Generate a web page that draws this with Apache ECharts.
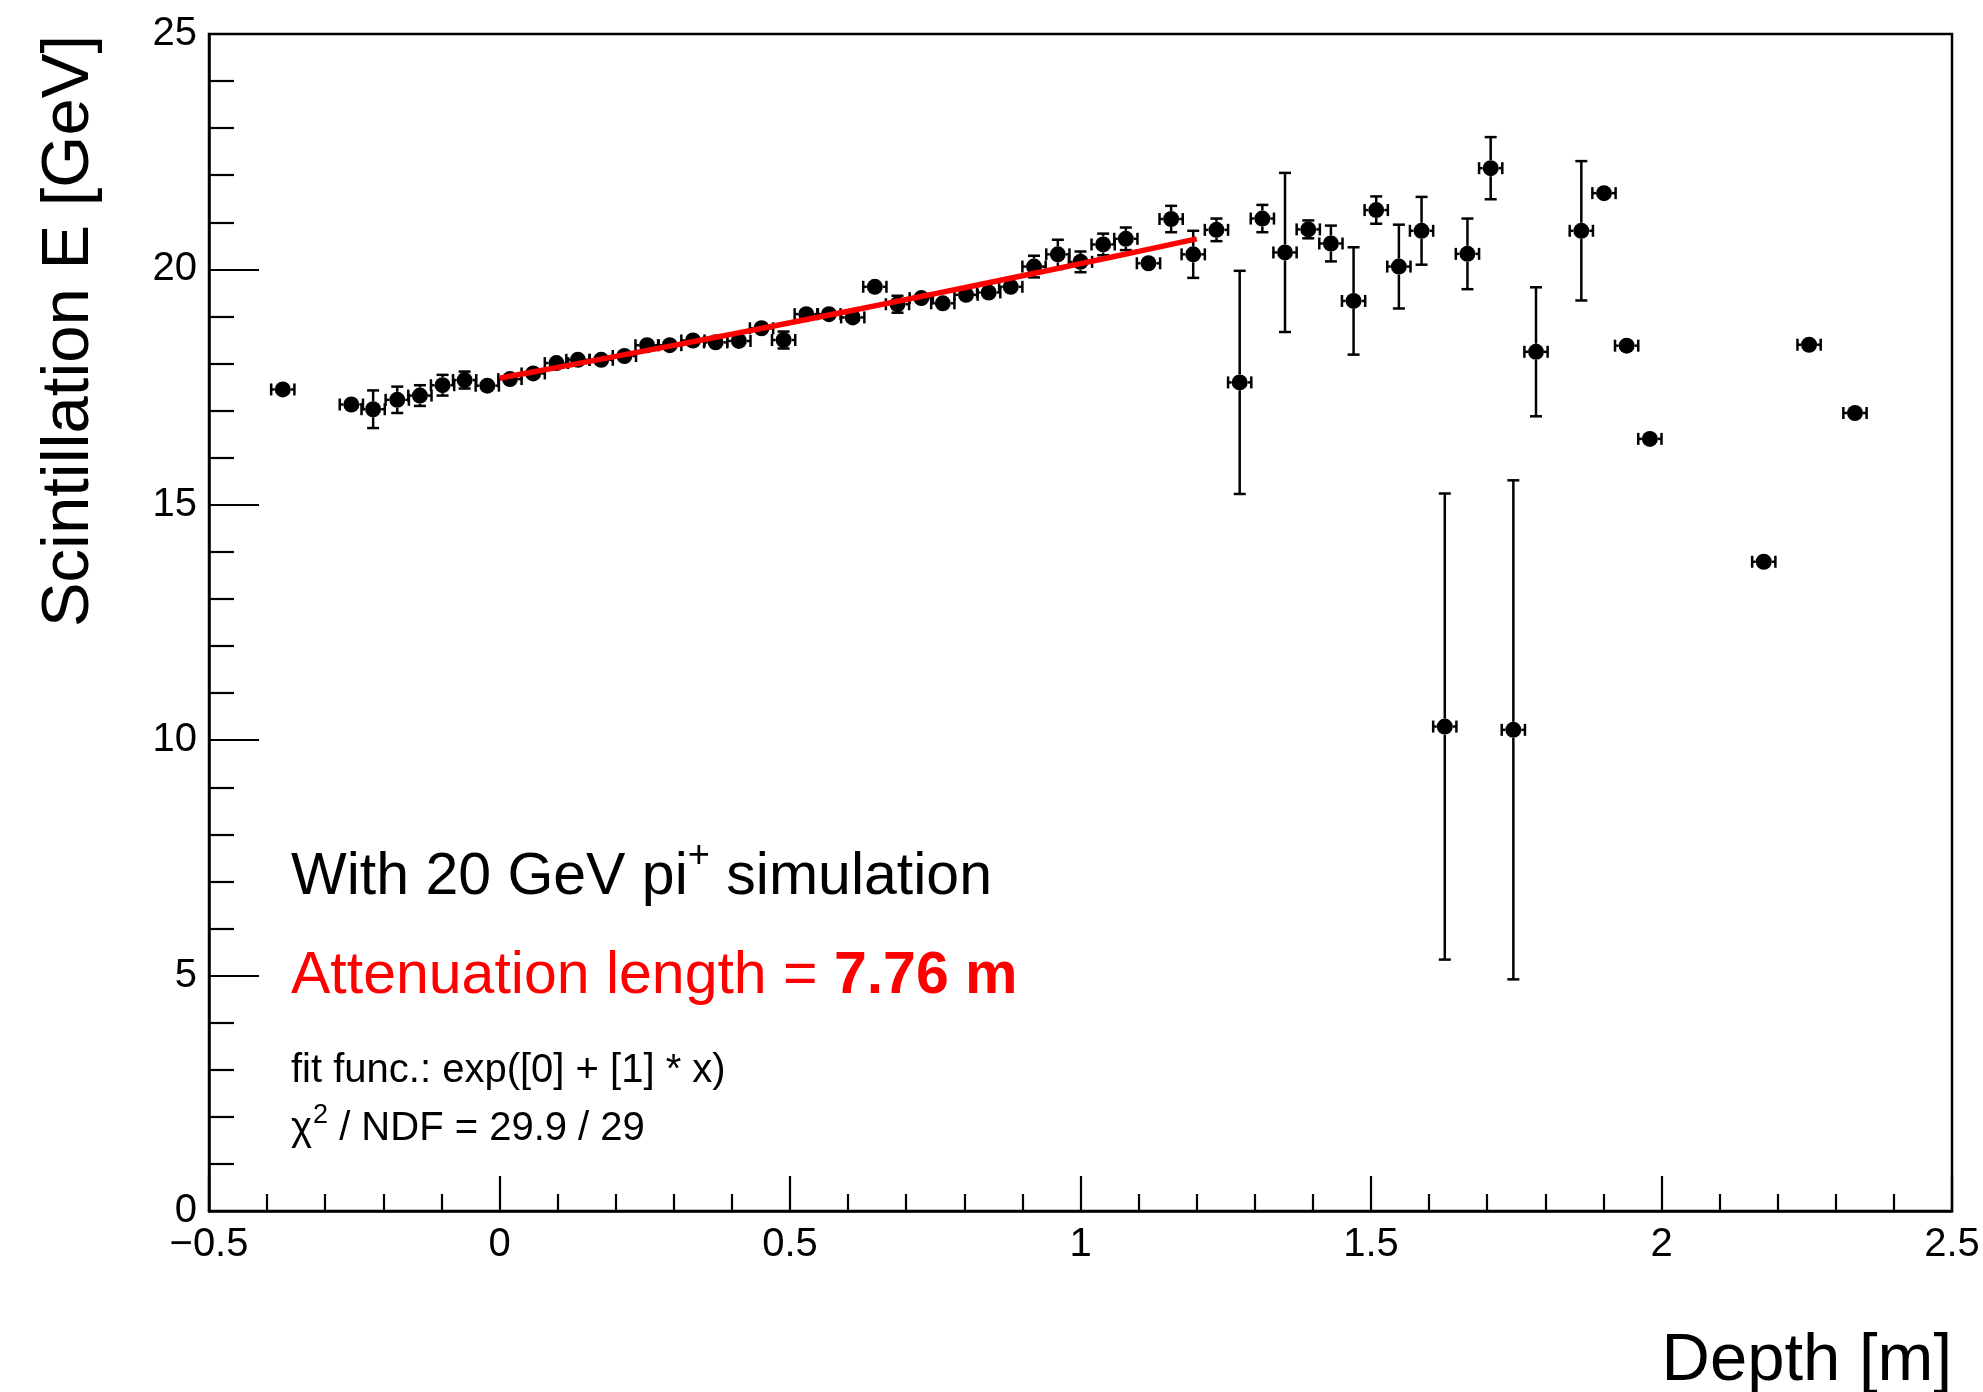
<!DOCTYPE html>
<html>
<head>
<meta charset="utf-8">
<script src="https://cdn.jsdelivr.net/npm/echarts@6/dist/echarts.min.js"></script>
<style>
  html, body { margin: 0; padding: 0; background: #ffffff; }
  #chart { width: 1983px; height: 1392px; }
</style>
</head>
<body>
<div id="chart"></div>
<script>
// Layer depth [m] (bin centres)
const depth = [
  -0.373, -0.255, -0.2175, -0.176, -0.137, -0.098, -0.060, -0.021,
   0.018,  0.058,  0.098,  0.135,  0.175,  0.215,  0.254,  0.293,
   0.333,  0.372,  0.412,  0.451,  0.489,  0.528,  0.567,  0.608,
   0.646,  0.685,  0.726,  0.763,  0.803,  0.842,  0.880,  0.920,
   0.961,  1.000,  1.039,  1.078,  1.117,  1.156,  1.194,  1.234,
   1.274,  1.313,  1.352,  1.392,  1.431,  1.470,  1.509,  1.548,
   1.587,  1.627,  1.666,  1.706,  1.745,  1.784,  1.862,  1.901,
   1.940,  1.980,  2.176,  2.254,  2.333
];
// Mean scintillation energy [GeV] per layer
const energy = [
  17.45, 17.13, 17.03, 17.23, 17.32, 17.54, 17.65, 17.53,
  17.67, 17.79, 18.01, 18.08, 18.08, 18.16, 18.39, 18.39,
  18.49, 18.45, 18.48, 18.75, 18.50, 19.05, 19.05, 18.98,
  19.63, 19.26, 19.39, 19.28, 19.46, 19.51, 19.63, 20.06,
  20.32, 20.16, 20.53, 20.65, 20.13, 21.07, 20.32, 20.84,
  17.60, 21.08, 20.36, 20.85, 20.55, 19.33, 21.26, 20.06,
  20.82, 10.29, 20.33, 22.15, 10.22, 18.25, 20.82, 21.62,
  18.38, 16.40, 13.79, 18.40, 16.95
];
// Statistical error on the energy [GeV]
const energyErr = [
  0.10, 0.12, 0.40, 0.28, 0.22, 0.22, 0.18, 0.08,
  0.08, 0.08, 0.08, 0.08, 0.08, 0.08, 0.08, 0.08,
  0.08, 0.08, 0.08, 0.10, 0.18, 0.08, 0.08, 0.12,
  0.16, 0.18, 0.14, 0.16, 0.12, 0.14, 0.15, 0.23,
  0.31, 0.22, 0.23, 0.24, 0.15, 0.28, 0.50, 0.24,
  2.37, 0.29, 1.69, 0.19, 0.38, 1.14, 0.29, 0.89,
  0.72, 4.95, 0.75, 0.66, 5.30, 1.37, 1.48, 0.08,
  0.06, 0.06, 0.06, 0.06, 0.06
];
// Half bin width in depth [m]
const depthHalfWidth = 0.02;

// Axis ticks
const xTickValues = [-0.5, 0, 0.5, 1, 1.5, 2, 2.5];
const xTickLabels = ['\u22120.5', '0', '0.5', '1', '1.5', '2', '2.5'];
const yTickValues = [0, 5, 10, 15, 20, 25];
const yTickLabels = ['0', '5', '10', '15', '20', '25'];

// Exponential fit E(x) = exp([0] + [1]*x) over 0 .. 1.2 m
const fitRange = [0, 1.2];
const fitNorm = 17.69;              // E at depth 0 [GeV]
const attenuationLength = 7.76;     // [m], so [1] = 1 / 7.76
const fitP0 = Math.log(fitNorm);
const fitP1 = 1 / attenuationLength;

const FONT = '"Liberation Sans", Arial, Helvetica, sans-serif';
const MARKER_R = 8;
const CAP = 6;
const ERR_W = 2.5;

const points = depth.map((d, i) => [d, energy[i], energyErr[i], depthHalfWidth]);

const fitSteps = 24;
const fitCurve = [];
for (let k = 0; k <= fitSteps; k++) {
  const x = fitRange[0] + (fitRange[1] - fitRange[0]) * k / fitSteps;
  fitCurve.push([x, Math.exp(fitP0 + fitP1 * x)]);
}

function renderPoint(params, api) {
  const x = api.value(0), y = api.value(1), ey = api.value(2), ex = api.value(3);
  const c = api.coord([x, y]);
  const top = api.coord([x, y + ey])[1];
  const bot = api.coord([x, y - ey])[1];
  const left = api.coord([x - ex, y])[0];
  const right = api.coord([x + ex, y])[0];
  const children = [];
  const seg = (x1, y1, x2, y2) => children.push({
    type: 'line', shape: { x1, y1, x2, y2 },
    style: { stroke: '#000', lineWidth: ERR_W }
  });
  if (c[1] - top > MARKER_R) {
    seg(c[0], c[1] - MARKER_R, c[0], top);
    seg(c[0] - CAP, top, c[0] + CAP, top);
    seg(c[0], c[1] + MARKER_R, c[0], bot);
    seg(c[0] - CAP, bot, c[0] + CAP, bot);
  }
  if (right - c[0] > MARKER_R) {
    seg(c[0] + MARKER_R, c[1], right, c[1]);
    seg(right, c[1] - CAP, right, c[1] + CAP);
    seg(c[0] - MARKER_R, c[1], left, c[1]);
    seg(left, c[1] - CAP, left, c[1] + CAP);
  }
  children.push({ type: 'circle', shape: { cx: c[0], cy: c[1], r: MARKER_R }, style: { fill: '#000' } });
  return { type: 'group', children };
}

// Text measuring for inline superscripts
const mctx = document.createElement('canvas').getContext('2d');
function textWidth(s, size, weight) {
  mctx.font = (weight || 'normal') + ' ' + size + 'px ' + FONT;
  return mctx.measureText(s).width;
}
const graphics = [];
function addText(text, x, y, size, color, weight, extra) {
  graphics.push(Object.assign({
    type: 'text', x, y, z: 100,
    style: {
      text, fill: color, font: (weight || 'normal') + ' ' + size + 'px ' + FONT,
      align: 'left', verticalAlign: 'middle', textAlign: 'left', textVerticalAlign: 'middle'
    }
  }, extra || {}));
}

const LX = 291;
const BIG = 59;
// "With 20 GeV pi+ simulation"
{
  const s1 = 'With 20 GeV pi';
  const w1 = textWidth(s1, BIG);
  addText(s1, LX, 878, BIG, '#000');
  addText('+', LX + w1, 857, 38, '#000');
  const w2 = textWidth('+', 38);
  addText(' simulation', LX + w1 + w2, 878, BIG, '#000');
}
// "Attenuation length = 7.76 m"
{
  const s1 = 'Attenuation length = ';
  const w1 = textWidth(s1, BIG);
  addText(s1, LX, 977, BIG, '#ff0000');
  addText(attenuationLength.toFixed(2) + ' m', LX + w1, 977, BIG, '#ff0000', 'bold');
}
// Fit summary
addText('fit func.: exp([0] + [1] * x)', LX, 1071, 40, '#000');
{
  const wc = textWidth('\u03c7', 40);
  addText('\u03c7', LX, 1129, 40, '#000');
  addText('2', LX + wc + 1, 1116, 27, '#000');
  const w2 = textWidth('2', 27);
  addText(' / NDF = 29.9 / 29', LX + wc + 1 + w2, 1129, 40, '#000');
}
// Axis titles
graphics.push({
  type: 'text', x: 70, y: 35, rotation: Math.PI / 2, z: 100,
  style: {
    text: 'Scintillation E [GeV]', fill: '#000', font: 'normal 67px ' + FONT,
    align: 'right', verticalAlign: 'middle', textAlign: 'right', textVerticalAlign: 'middle'
  }
});
graphics.push({
  type: 'text', x: 1952, y: 1362, z: 100,
  style: {
    text: 'Depth [m]', fill: '#000', font: 'normal 67px ' + FONT,
    align: 'right', verticalAlign: 'middle', textAlign: 'right', textVerticalAlign: 'middle'
  }
});

const chart = echarts.init(document.getElementById('chart'), null, { renderer: 'canvas' });
chart.setOption({
  animation: false,
  backgroundColor: '#ffffff',
  grid: {
    left: 209, right: 31, top: 34, bottom: 181,
    containLabel: false, outerBoundsMode: 'none',
    show: true, borderColor: '#000', borderWidth: 2.5, backgroundColor: 'transparent'
  },
  xAxis: {
    type: 'value', min: xTickValues[0], max: xTickValues[xTickValues.length - 1], interval: 0.5,
    axisLine: { show: true, onZero: false, lineStyle: { color: '#000', width: 2.5 } },
    axisTick: { show: true, inside: true, length: 35, lineStyle: { color: '#000', width: 2.2 } },
    minorTick: { show: true, splitNumber: 5, length: 17, lineStyle: { color: '#000', width: 2.2 } },
    splitLine: { show: false },
    axisLabel: {
      show: true, margin: 14, color: '#000', fontSize: 40, fontFamily: FONT,
      showMinLabel: true, showMaxLabel: true,
      formatter: v => {
        const i = xTickValues.findIndex(t => Math.abs(t - v) < 1e-9);
        return i >= 0 ? xTickLabels[i] : '';
      }
    }
  },
  yAxis: {
    type: 'value', min: yTickValues[0], max: yTickValues[yTickValues.length - 1], interval: 5,
    axisLine: { show: true, onZero: false, lineStyle: { color: '#000', width: 2.5 } },
    axisTick: { show: true, inside: true, length: 50, lineStyle: { color: '#000', width: 2.2 } },
    minorTick: { show: true, splitNumber: 5, length: 25, lineStyle: { color: '#000', width: 2.2 } },
    splitLine: { show: false },
    axisLabel: {
      show: true, margin: 12, color: '#000', fontSize: 40, fontFamily: FONT,
      showMinLabel: true, showMaxLabel: true,
      formatter: v => {
        const i = yTickValues.findIndex(t => Math.abs(t - v) < 1e-9);
        return i >= 0 ? yTickLabels[i] : '';
      }
    }
  },
  series: [
    {
      type: 'custom', name: 'data', renderItem: renderPoint,
      data: points, clip: false, z: 3,
      encode: { x: 0, y: 1 }
    },
    {
      type: 'line', name: 'fit', data: fitCurve, showSymbol: false, smooth: false,
      lineStyle: { color: '#ff0000', width: 5.5 }, z: 5, clip: true
    }
  ],
  graphic: graphics
});
</script>
</body>
</html>
